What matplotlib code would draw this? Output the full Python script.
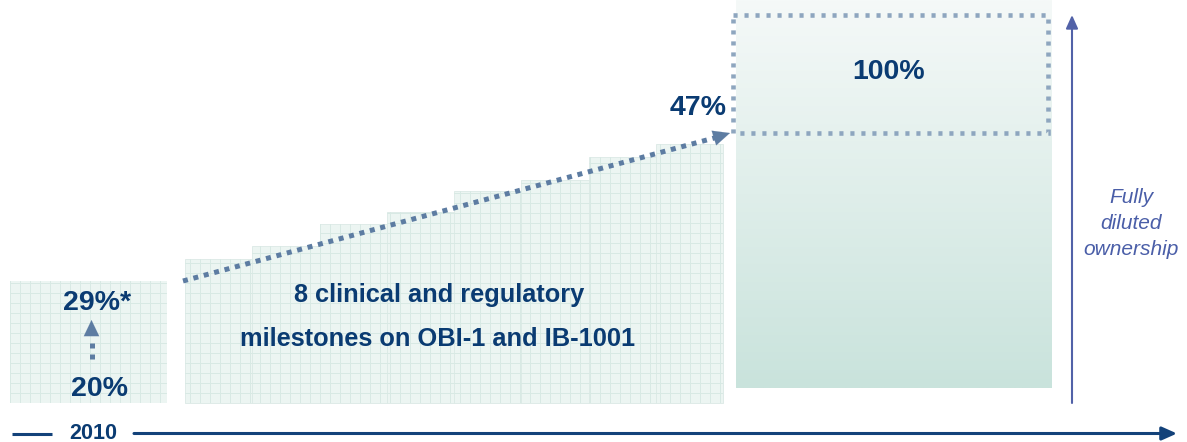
import numpy as np
import matplotlib
matplotlib.use('Agg')
import matplotlib.pyplot as plt
from matplotlib.collections import LineCollection
from matplotlib.colors import LinearSegmentedColormap
from matplotlib.patches import Rectangle, FancyArrowPatch

plt.rcParams['font.family'] = ['Liberation Sans', 'DejaVu Sans']

# ---------------- data ----------------
start_labels = ['20%', '29%*']
start_height = 122
milestone_heights = [144, 157, 179, 191, 212, 223, 246, 259]
milestone_text = ['8 clinical and regulatory', 'milestones on OBI-1 and IB-1001']
full_height = 388
label_47 = '47%'
label_100 = '100%'
year_label = '2010'
axis_label = ['Fully', 'diluted', 'ownership']

# ---------------- styles ----------------
W, H = 1187, 442
NAVY = '#0a3b72'
BG = '#ecf5f2'
GRIDC = '#d8e9e4'
DOT = '#5d7ca2'
RECT_DOT = '#8ea6bf'
AXC = '#13427a'
VAX = '#5262a8'

fig = plt.figure(figsize=(W / 100, H / 100), dpi=100)
ax = fig.add_axes([0, 0, 1, 1])
ax.set_xlim(0, W)
ax.set_ylim(H, 0)
ax.axis('off')

base = 403


def add_grid(patch, step=10):
    segs = []
    for x in np.arange(0, 760, step):
        segs.append([(x, 0), (x, H)])
    for y in np.arange(3, H, step):
        segs.append([(0, y), (760, y)])
    lc = LineCollection(segs, colors=GRIDC, linewidths=0.7, zorder=2)
    ax.add_collection(lc)
    lc.set_clip_path(patch)


# left box
left = ax.bar(88.5, -start_height, width=157, bottom=base, color=BG,
              edgecolor='none', zorder=1)
add_grid(left[0])

# milestone steps
n = len(milestone_heights)
x0s, x1s = 185, 723
w = (x1s - x0s) / n
centers = x0s + w * (np.arange(n) + 0.5)
steps = ax.bar(centers, -np.array(milestone_heights), width=w, bottom=base,
               color=BG, edgecolor='#dbe9e5', linewidth=0.6, zorder=1)
for p in steps:
    add_grid(p)

# big gradient bar
big = ax.bar(894, -full_height, width=316, bottom=388, color='none',
             edgecolor='none', zorder=1)
cmap = LinearSegmentedColormap.from_list('g', ['#f5f9f8', '#c9e3dc'])
grad = np.linspace(0, 1, 256).reshape(-1, 1)
im = ax.imshow(grad, extent=[736, 1052, 388, 0], aspect='auto', cmap=cmap,
               origin='upper', zorder=1)
im.set_clip_path(big[0])
ax.set_xlim(0, W)
ax.set_ylim(H, 0)

# dotted rectangle
ax.add_patch(Rectangle((733, 15), 315, 118, fill=False, ec=RECT_DOT, lw=3.3,
                       ls=(0, (0.9, 1.5)), zorder=4))

# diagonal dotted arrow
ax.plot([183, 716], [281, 137.5], color=DOT, lw=3.6, ls=(0, (1, 1.15)),
        dash_capstyle='butt', zorder=4)
ax.add_patch(FancyArrowPatch((714, 138), (730, 133),
                             arrowstyle='-|>,head_length=1.2,head_width=0.55',
                             mutation_scale=10, color=DOT, lw=0.1,
                             shrinkA=0, shrinkB=0, zorder=5))

# small vertical dotted arrow
ax.plot([91.5, 91.5], [359, 342], color=DOT, lw=3.6, ls=(0, (1, 1.2)),
        dash_capstyle='butt', zorder=4)
ax.add_patch(FancyArrowPatch((91.5, 336), (91.5, 320),
                             arrowstyle='-|>,head_length=1.15,head_width=0.55',
                             mutation_scale=10, color=DOT, lw=0.1,
                             shrinkA=0, shrinkB=0, zorder=5))

# vertical ownership arrow
ax.add_patch(FancyArrowPatch((1072, 403), (1072, 15),
                             arrowstyle='-|>,head_length=0.8,head_width=0.36',
                             mutation_scale=10, color=VAX, lw=1.5,
                             shrinkA=0, shrinkB=0, zorder=5))

# time axis
ax.plot([12, 52], [433.5, 433.5], color=AXC, lw=2.2, solid_capstyle='butt')
ax.add_patch(FancyArrowPatch((134, 433.5), (1177, 433.5),
                             arrowstyle='-|>,head_length=0.9,head_width=0.4',
                             mutation_scale=10, color=AXC, lw=2.2,
                             shrinkA=0, shrinkB=0, zorder=5))

# texts
bold = dict(color=NAVY, fontweight='bold', ha='center', va='baseline', zorder=6)
ax.text(97.5, 310, start_labels[1], fontsize=20.5, **bold)
ax.text(99, 396, start_labels[0], fontsize=20.5, **bold)
ax.text(698, 115, label_47, fontsize=20.5, **bold)
ax.text(889, 79, label_100, fontsize=20.5, **bold)
ax.text(439, 302, milestone_text[0], fontsize=18.3, **bold)
ax.text(438, 346, milestone_text[1], fontsize=18.3, **bold)
ax.text(93, 439, year_label, fontsize=15.5, **bold)
for i, t in enumerate(axis_label):
    ax.text(1131, 203 + 26 * i, t, fontsize=15, color='#4a5ea8', style='italic',
            ha='center', va='baseline')

fig.savefig('out.png', dpi=100)
